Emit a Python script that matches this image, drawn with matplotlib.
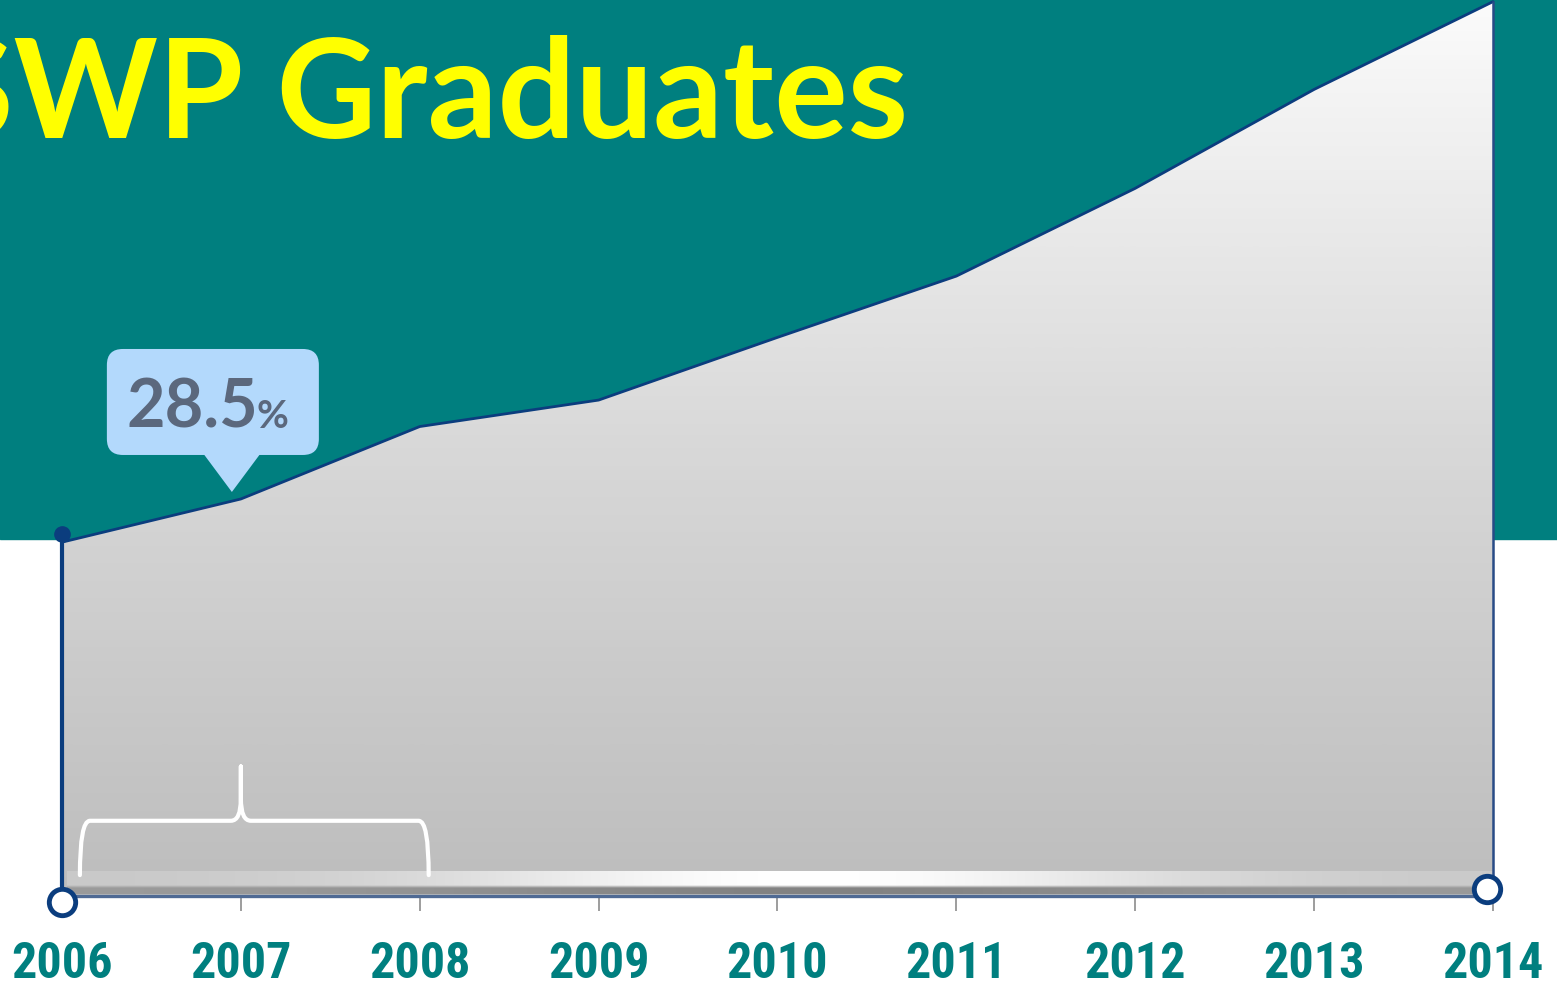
"""SWP graduates share, 2006-2014 (area chart with callout)."""

import numpy as np
import matplotlib
matplotlib.use("Agg")
import matplotlib.pyplot as plt
import matplotlib.transforms as mtransforms
from matplotlib.patches import FancyBboxPatch, Polygon, PathPatch
from matplotlib.path import Path
from matplotlib.colors import LinearSegmentedColormap

# data (% of graduates)
years = [2006, 2007, 2008, 2009, 2010, 2011, 2012, 2013, 2014]
share = [25.4, 28.5, 33.7, 35.6, 40.1, 44.5, 50.8, 57.9, 64.2]
tick_labels = [str(y) for y in years]
title = "SWP Graduates"
callout_year = 2007
callout_value = "28.5"
callout_unit = "%"
brace_span = (2006.1, 2008.05)

TEAL = "#007f7f"
YELLOW = "#ffff00"
NAVY = "#0b3d7e"
CALLOUT = "#b3d9fc"
CALLOUT_TXT = "#5b687d"
NARROW = ["Roboto Condensed", "Liberation Sans Narrow", "Liberation Sans", "DejaVu Sans"]

fig = plt.figure(figsize=(15.57, 9.87), dpi=100)
ax = fig.add_axes([0, 0, 1, 1])
ax.set_axis_off()
xlim = (2005.6534, 2014.3578)
ylim = (-6.46, 64.39)

# teal header band
ax.axhspan(25.63, ylim[1], color=TEAL, zorder=0)

# area with vertical gradient
verts = [(years[0], 0)] + list(zip(years, share)) + [(years[-1], 0)]
area = Polygon(verts, closed=True, facecolor="none", edgecolor="none")
ax.add_patch(area)
cmap = LinearSegmentedColormap.from_list("g", ["#bdbdbd", "#d8d8d8", "#fbfbfb"])
grad = np.linspace(1, 0, 256).reshape(-1, 1)
im = ax.imshow(grad, extent=[years[0], years[-1], 0, max(share)], cmap=cmap,
               aspect="auto", origin="upper", zorder=2, interpolation="bicubic")
im.set_clip_path(area)

# glossy strip along the bottom
xs = np.linspace(0, 1, 600)
hx = np.exp(-((xs - 0.52) / 0.26) ** 2)
vs = np.linspace(0, 1, 40).reshape(-1, 1)
light = 200 + 55 * hx
dark = 155 - 25 * hx
mix = np.clip((vs - 0.62) / 0.12, 0, 1)
strip = (light * (1 - mix) + dark * mix) / 255.0
strip_rgb = np.dstack([strip, strip, strip])
ax.imshow(strip_rgb, extent=[years[0] + 0.03, years[-1], 0.15, 1.79],
          aspect="auto", origin="upper", zorder=3, interpolation="bilinear")

# outline
ax.plot(years, share, color=NAVY, lw=2, zorder=4, solid_capstyle="round")
ax.plot([years[-1], years[-1]], [0, share[-1]], color="#284b86", lw=1.8, zorder=4)
ax.plot([years[0], years[-1]], [0.0, 0.0], color="#4f6a94", lw=2.4, zorder=4)

# ticks and labels
ax.vlines(years[1:], -1.08, 0, color="#8c8c8c", lw=1.2, zorder=3)
for yr, lab in zip(years, tick_labels):
    ax.text(yr, -4.85, lab, ha="center", va="center", color=TEAL, fontsize=36,
            fontweight="bold", family=NARROW)

# left marker line
ax.plot([years[0], years[0]], [share[0] + 0.6, -0.4], color=NAVY, lw=3, zorder=5)
ax.plot(years[0], share[0] + 0.6, "o", color=NAVY, ms=11, zorder=6)
ax.plot(years[0], -0.4, "o", mfc="white", mec=NAVY, ms=19, mew=3.5, zorder=6)
ax.plot(years[-1] - 0.035, 0.5, "o", mfc="white", mec=NAVY, ms=19, mew=3.5, zorder=6)

# curly brace
bx0, bx1 = brace_span
dx = 0.056
low, mid, neck, top = 1.5, 5.4, 7.0, 9.3
bverts = [(bx0, low), (bx0, mid), (bx0 + dx, mid),
          (callout_year - dx, mid), (callout_year, mid), (callout_year, neck),
          (callout_year, top), (callout_year, neck), (callout_year, mid),
          (callout_year + dx, mid), (bx1 - dx, mid), (bx1, mid), (bx1, low)]
bcodes = [Path.MOVETO, Path.CURVE3, Path.CURVE3,
          Path.LINETO, Path.CURVE3, Path.CURVE3,
          Path.LINETO, Path.LINETO, Path.CURVE3,
          Path.CURVE3, Path.LINETO, Path.CURVE3, Path.CURVE3]
ax.add_patch(PathPatch(Path(bverts, bcodes), fc="none", ec="white", lw=3,
                       capstyle="round", joinstyle="round", zorder=5))

ax.set_xlim(*xlim)
ax.set_ylim(*ylim)

# title
fig.text(-62 / 1557, 1 - 138 / 987, title, color=YELLOW, fontsize=99,
         fontweight="bold", family=["Lato", "DejaVu Sans"], va="baseline", ha="left")

# callout bubble anchored on the 2007 point (offsets in pixels)
ci = years.index(callout_year)
px, py = ax.transData.transform((callout_year, share[ci]))
tf = mtransforms.Affine2D().translate(px, py)
bubble = FancyBboxPatch((-134, 44), 212, 106,
                        boxstyle="round,pad=0,rounding_size=16",
                        fc=CALLOUT, ec="none", transform=tf, zorder=7)
fig.add_artist(bubble)
tip = Polygon([(-38, 46), (20, 46), (-9, 7)], closed=True, fc=CALLOUT,
              ec="none", transform=tf, zorder=7)
fig.add_artist(tip)
fig.text(-114, 72, callout_value, transform=tf, fontsize=48, fontweight="bold",
         color=CALLOUT_TXT, family=["Lato", "DejaVu Sans"], va="baseline", zorder=8)
fig.text(16, 72, callout_unit, transform=tf, fontsize=28, fontweight="bold",
         color=CALLOUT_TXT, family=["Lato", "DejaVu Sans"], va="baseline", zorder=8)

fig.savefig("out.png", dpi=100)
